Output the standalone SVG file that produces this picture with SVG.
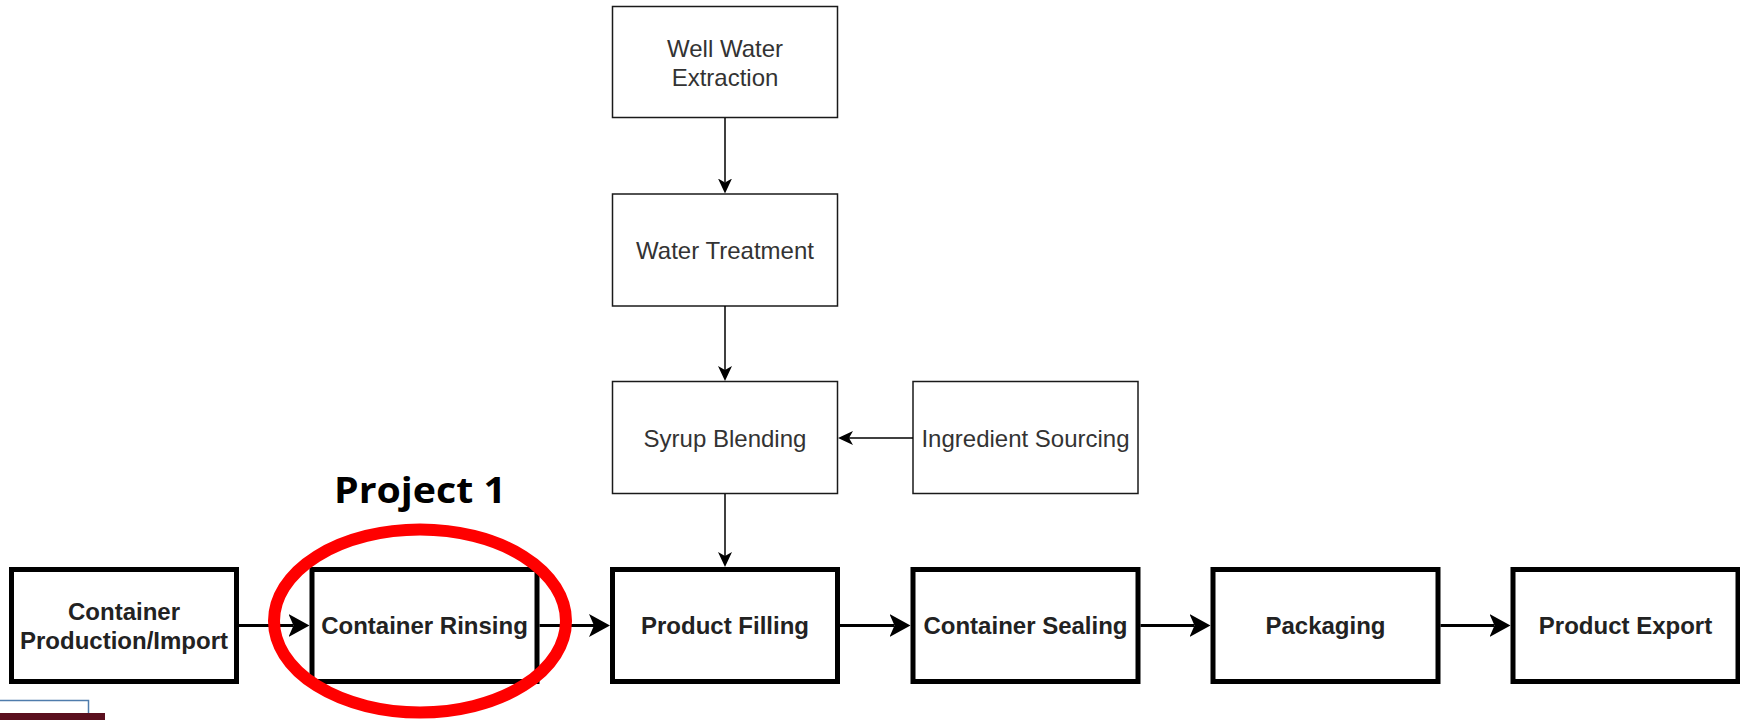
<svg xmlns="http://www.w3.org/2000/svg" width="1740" height="720" viewBox="0 0 1740 720">
  <style>
    .thin { fill: #ffffff; stroke: #1a1a1a; stroke-width: 1.5; }
    .thick { fill: #ffffff; stroke: #000000; stroke-width: 5; }
    .lbl { font-family: "Liberation Sans", Arial, sans-serif; font-size: 24px; fill: #333333; text-anchor: middle; }
    .blbl { font-family: "Liberation Sans", Arial, sans-serif; font-size: 24px; font-weight: bold; fill: #222222; text-anchor: middle; }
    .cthin { stroke: #000000; stroke-width: 1.5; fill: none; }
    .cthick { stroke: #000000; stroke-width: 3; fill: none; }
  </style>
  <defs>
    <marker id="headThin" markerUnits="userSpaceOnUse" markerWidth="15" markerHeight="14" refX="4" refY="7" orient="auto">
      <path d="M0,0 L15,7 L0,14 L4,7 Z" fill="#000000"/>
    </marker>
    <marker id="headThick" markerUnits="userSpaceOnUse" markerWidth="21" markerHeight="23" refX="5" refY="11.5" orient="auto">
      <path d="M0,0 L21,11.5 L0,23 L5,11.5 Z" fill="#000000"/>
    </marker>
  </defs>
  <rect width="1740" height="720" fill="#ffffff"/>

  <g id="well-water-extraction">
    <rect class="thin" x="612.5" y="6.5" width="225" height="111"/>
    <text class="lbl" x="725" y="57">Well Water</text>
    <text class="lbl" x="725" y="86">Extraction</text>
  </g>
  <g id="water-treatment">
    <rect class="thin" x="612.5" y="194" width="225" height="112"/>
    <text class="lbl" x="725" y="258.5">Water Treatment</text>
  </g>
  <g id="syrup-blending">
    <rect class="thin" x="612.5" y="381.5" width="225" height="112"/>
    <text class="lbl" x="725" y="446.5">Syrup Blending</text>
  </g>
  <g id="ingredient-sourcing">
    <rect class="thin" x="913" y="381.5" width="225" height="112"/>
    <text class="lbl" x="1025.5" y="446.5">Ingredient Sourcing</text>
  </g>

  <g id="container-production-import">
    <rect class="thick" x="11.5" y="569.5" width="225" height="112"/>
    <text class="blbl" x="124" y="620">Container</text>
    <text class="blbl" x="124" y="648.5">Production/Import</text>
  </g>
  <g id="container-rinsing">
    <rect class="thick" x="312" y="569.5" width="225" height="112"/>
    <text class="blbl" x="424.5" y="634">Container Rinsing</text>
  </g>
  <g id="product-filling">
    <rect class="thick" x="612.5" y="569.5" width="225" height="112"/>
    <text class="blbl" x="725" y="634">Product Filling</text>
  </g>
  <g id="container-sealing">
    <rect class="thick" x="913" y="569.5" width="225" height="112"/>
    <text class="blbl" x="1025.5" y="634">Container Sealing</text>
  </g>
  <g id="packaging">
    <rect class="thick" x="1213" y="569.5" width="225" height="112"/>
    <text class="blbl" x="1325.5" y="634">Packaging</text>
  </g>
  <g id="product-export">
    <rect class="thick" x="1513" y="569.5" width="225" height="112"/>
    <text class="blbl" x="1625.5" y="634">Product Export</text>
  </g>

  <g id="connectors">
    <line class="cthin" x1="725" y1="118" x2="725" y2="182.5" marker-end="url(#headThin)"/>
    <line class="cthin" x1="725" y1="306" x2="725" y2="370" marker-end="url(#headThin)"/>
    <line class="cthin" x1="913" y1="438" x2="849" y2="438" marker-end="url(#headThin)"/>
    <line class="cthin" x1="725" y1="494" x2="725" y2="556" marker-end="url(#headThin)"/>
    <line class="cthick" x1="239" y1="625.5" x2="293.5" y2="625.5" marker-end="url(#headThick)"/>
    <line class="cthick" x1="539.5" y1="625.5" x2="594" y2="625.5" marker-end="url(#headThick)"/>
    <line class="cthick" x1="840" y1="625.5" x2="894.5" y2="625.5" marker-end="url(#headThick)"/>
    <line class="cthick" x1="1140.5" y1="625.5" x2="1194.5" y2="625.5" marker-end="url(#headThick)"/>
    <line class="cthick" x1="1440.5" y1="625.5" x2="1494.5" y2="625.5" marker-end="url(#headThick)"/>
  </g>

  <g id="project-1-highlight">
    <ellipse cx="420" cy="621" rx="146" ry="91.5" fill="none" stroke="#ff0000" stroke-width="12"/>
    <text x="420" y="503" font-family="'Open Sans', 'Liberation Sans', sans-serif" font-size="35" font-weight="bold" fill="#000000" text-anchor="middle" textLength="172" lengthAdjust="spacingAndGlyphs">Project 1</text>
  </g>

  <g id="corner-decoration">
    <rect x="-2" y="700.5" width="90.5" height="30" fill="#ffffff" stroke="#4f7cac" stroke-width="1.5"/>
    <rect x="0" y="713" width="105" height="7" fill="#5a0f1e"/>
  </g>
</svg>
